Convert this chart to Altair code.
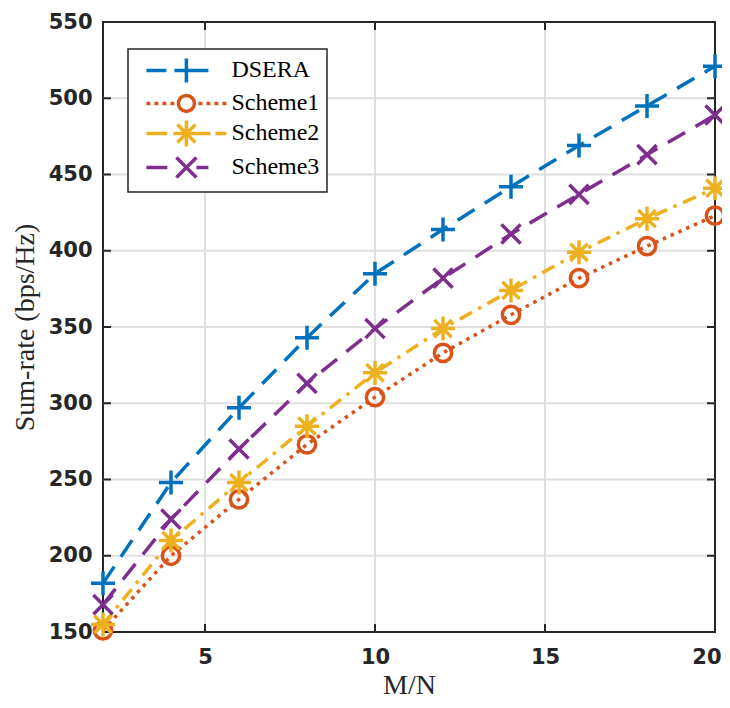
import altair as alt
import pandas as pd

# ---------------- data ----------------
x_vals = [2, 4, 6, 8, 10, 12, 14, 16, 18, 20]
dsera = [182, 248, 297, 343, 385, 414, 442, 469, 495, 521]
scheme1 = [151, 200, 237, 273, 304, 333, 358, 382, 403, 423]
scheme2 = [155, 210, 248, 285, 320, 349, 374, 399, 421, 441]
scheme3 = [168, 224, 270, 313, 349, 382, 411, 437, 463, 489]
series_names = ["DSERA", "Scheme1", "Scheme2", "Scheme3"]
x_ticks = [5, 10, 15, 20]
y_ticks = [150, 200, 250, 300, 350, 400, 450, 500, 550]
x_grid = [5, 10, 15]
y_grid = [200, 250, 300, 350, 400, 450, 500]

# ---------------- styles ----------------
colors = ["#0072BD", "#D95319", "#EDB120", "#7E2F8E"]
dashes = [[20, 12], [3.5, 5], [14, 7, 3.5, 7], [20, 12]]
PLUS = "M-1,0L1,0M0,-1L0,1"
CIRCLE = "M0.72,0A0.72,0.72 0 1,1 -0.72,0A0.72,0.72 0 1,1 0.72,0Z"
ASTER = "M-1,0L1,0M0,-1L0,1M-0.72,-0.72L0.72,0.72M-0.72,0.72L0.72,-0.72"
XMARK = "M-0.8,-0.8L0.8,0.8M-0.8,0.8L0.8,-0.8"
marker_paths = [PLUS, CIRCLE, ASTER, XMARK]

# legend symbols: line sample + marker in one path, drawn in pixels / U
LEG_SIZE = 576
U = LEG_SIZE ** 0.5 / 2


def hseg(a, b):
    return f"M{a / U:.3f},0L{b / U:.3f},0"


def vseg(h):
    return f"M0,{-h / U:.3f}L0,{h / U:.3f}"


def diag(d):
    return (f"M{-d / U:.3f},{-d / U:.3f}L{d / U:.3f},{d / U:.3f}"
            f"M{-d / U:.3f},{d / U:.3f}L{d / U:.3f},{-d / U:.3f}")


def circ(r):
    return f"M{r / U:.3f},0A{r / U:.3f},{r / U:.3f} 0 1,1 {-r / U:.3f},0A{r / U:.3f},{r / U:.3f} 0 1,1 {r / U:.3f},0Z"


LEG_DSERA = hseg(-40, -20) + hseg(-12, 22) + vseg(12)
LEG_S1 = "".join(hseg(a, a + 4) for a in [-40, -32, -24, -16]) + circ(8) + \
    "".join(hseg(a, a + 4) for a in [12, 20, 28, 36])
LEG_S2 = hseg(-40, -19) + hseg(-13, 24) + vseg(13) + diag(9) + hseg(29, 40)
LEG_S3 = hseg(-40, -19) + diag(10) + hseg(10, 22)
legend_paths = [LEG_DSERA, LEG_S1, LEG_S2, LEG_S3]

rows = []
for name, vals in zip(series_names, [dsera, scheme1, scheme2, scheme3]):
    for x, y in zip(x_vals, vals):
        rows.append({"series": name, "x": x, "y": y})
df = pd.DataFrame(rows)

W, H = 612, 610
xs = alt.Scale(domain=[2, 20], nice=False, zero=False)
ys = alt.Scale(domain=[150, 550], nice=False, zero=False)

axis_common = dict(
    grid=False, domain=False, ticks=False, tickSize=0,
    labelFont="DejaVu Sans", labelFontWeight="bold", labelFontSize=21,
    labelColor="#262626",
    titleFont="Liberation Serif", titleFontWeight="normal", titleFontSize=28,
    titleColor="#262626",
)
x_axis = alt.Axis(values=x_ticks, title="M/N", labelPadding=14,
                  labelFlush=True, labelFlushOffset=6,
                  titleBaseline="alphabetic", titleY=61, **axis_common)
y_axis = alt.Axis(values=y_ticks, title="Sum-rate (bps/Hz)", labelPadding=11,
                  labelFlush=False,
                  titleAngle=270, titleAlign="center", titleBaseline="middle",
                  titleX=-78, titleY=H / 2, **axis_common)

X = alt.X("x:Q", scale=xs, axis=x_axis)
Y = alt.Y("y:Q", scale=ys, axis=y_axis)

grid_x = alt.Chart(pd.DataFrame({"x": x_grid})).mark_rule(
    color="#dfdfdf", strokeWidth=2).encode(x=alt.X("x:Q", scale=xs, axis=x_axis))
grid_y = alt.Chart(pd.DataFrame({"y": y_grid})).mark_rule(
    color="#dfdfdf", strokeWidth=2).encode(y=alt.Y("y:Q", scale=ys, axis=y_axis))

tick_style = dict(color="#262626", strokeWidth=2)
tx = pd.DataFrame({"x": x_ticks[:-1]})
ty = pd.DataFrame({"y": y_grid})
tick_bottom = alt.Chart(tx).mark_rule(**tick_style).encode(
    x=alt.X("x:Q", scale=xs), y=alt.value(H), y2=alt.value(H - 8))
tick_top = alt.Chart(tx).mark_rule(**tick_style).encode(
    x=alt.X("x:Q", scale=xs), y=alt.value(0), y2=alt.value(8))
tick_left = alt.Chart(ty).mark_rule(**tick_style).encode(
    y=alt.Y("y:Q", scale=ys), x=alt.value(0), x2=alt.value(8))
tick_right = alt.Chart(ty).mark_rule(**tick_style).encode(
    y=alt.Y("y:Q", scale=ys), x=alt.value(W), x2=alt.value(W - 8))

lines = alt.Chart(df).mark_line(strokeWidth=3.5, strokeCap="butt").encode(
    x=X, y=Y,
    color=alt.Color("series:N", scale=alt.Scale(domain=series_names, range=colors), legend=None),
    strokeDash=alt.StrokeDash("series:N", scale=alt.Scale(domain=series_names, range=dashes), legend=None),
)

points = alt.Chart(df).mark_point(filled=False, opacity=1, strokeWidth=3.5, size=576).encode(
    x=X, y=Y,
    color=alt.Color("series:N", scale=alt.Scale(domain=series_names, range=colors), legend=None),
    shape=alt.Shape("series:N", scale=alt.Scale(domain=series_names, range=marker_paths), legend=None),
)

legend_layer = alt.Chart(df).transform_filter("false").mark_point(
    filled=False, opacity=1, strokeWidth=3.5, size=LEG_SIZE).encode(
    x=X, y=Y,
    color=alt.Color("series:N", scale=alt.Scale(domain=series_names, range=colors),
                    legend=alt.Legend(title=None)),
    shape=alt.Shape("series:N", scale=alt.Scale(domain=series_names, range=legend_paths),
                    legend=alt.Legend(title=None)),
)

chart = alt.layer(
    grid_x, grid_y, tick_bottom, tick_top, tick_left, tick_right,
    lines, points, legend_layer,
).resolve_scale(
    color="independent", shape="independent"
).properties(
    width=W, height=H,
    autosize=alt.AutoSizeParams(type="none"),
    padding={"left": 95, "top": 14, "right": 7, "bottom": 68},
    background="white",
).configure_view(
    stroke="#262626", strokeWidth=2,
).configure_legend(
    orient="none", legendX=25, legendY=27,
    fillColor="white", strokeColor="#262626", strokeWidth=1.5,
    padding=7.4, symbolSize=LEG_SIZE, symbolStrokeWidth=3.5, symbolOffset=37,
    labelFont="Liberation Serif", labelFontSize=24, labelColor="#000000",
    labelOffset=31, rowPadding=-12.8, labelLimit=0,
)

chart.save("out.html", embed_options={"renderer": "svg", "actions": False})
